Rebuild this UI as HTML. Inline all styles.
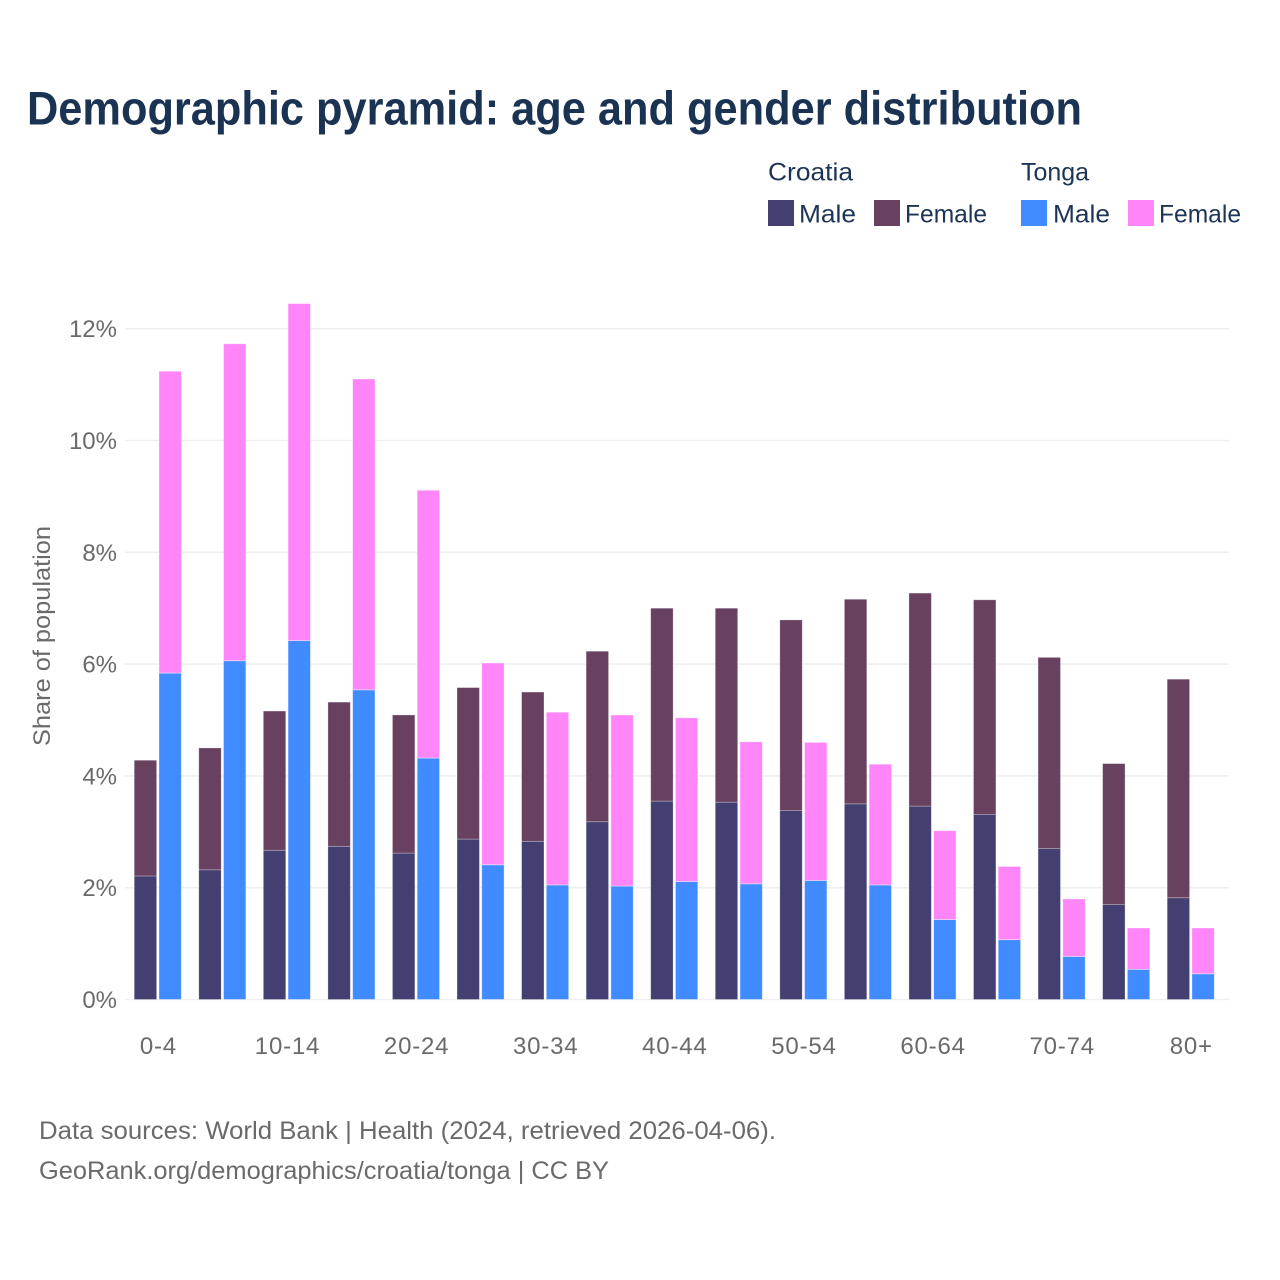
<!DOCTYPE html>
<html lang="en">
<head>
<meta charset="utf-8">
<title>Demographic pyramid: age and gender distribution</title>
<style>
  html, body { margin: 0; padding: 0; background: #ffffff; }
  svg { display: block; font-family: "Liberation Sans", sans-serif; }
</style>
</head>
<body>
<svg id="chart" xmlns="http://www.w3.org/2000/svg" width="1280" height="1280" viewBox="0 0 1280 1280">
  <rect x="0" y="0" width="1280" height="1280" fill="#ffffff"/>
  <text x="27" y="124.5" font-size="47" font-weight="700" fill="#1a3353" textLength="1055" lengthAdjust="spacingAndGlyphs">Demographic pyramid: age and gender distribution</text>

  <g font-size="25" fill="#1c3455">
    <text x="768" y="180.5" textLength="85" lengthAdjust="spacingAndGlyphs">Croatia</text>
    <text x="1021" y="180.5" textLength="68" lengthAdjust="spacingAndGlyphs">Tonga</text>
    <rect x="768" y="200" width="26" height="26" fill="#433f70"/>
    <text x="799" y="222.5" textLength="57" lengthAdjust="spacingAndGlyphs">Male</text>
    <rect x="874" y="200" width="26" height="26" fill="#67415f"/>
    <text x="905" y="222.5" textLength="82" lengthAdjust="spacingAndGlyphs">Female</text>
    <rect x="1021" y="200" width="26" height="26" fill="#408bff"/>
    <text x="1053" y="222.5" textLength="57" lengthAdjust="spacingAndGlyphs">Male</text>
    <rect x="1128" y="200" width="26" height="26" fill="#ff85f9"/>
    <text x="1159" y="222.5" textLength="82" lengthAdjust="spacingAndGlyphs">Female</text>
  </g>

  <g id="grid"></g>
  <g id="y-ticks"></g>
  <g id="bars"></g>
  <g id="x-ticks"></g>

  <text transform="translate(50,636) rotate(-90)" text-anchor="middle" font-size="24" fill="#6a6a6a" textLength="220" lengthAdjust="spacingAndGlyphs">Share of population</text>

  <text x="39" y="1139" font-size="25" fill="#6a6a6a" textLength="737" lengthAdjust="spacingAndGlyphs">Data sources: World Bank | Health (2024, retrieved 2026-04-06).</text>
  <text x="39" y="1179" font-size="25" fill="#6a6a6a" textLength="570" lengthAdjust="spacingAndGlyphs">GeoRank.org/demographics/croatia/tonga | CC BY</text>
</svg>

<script>
const categories = ["0-4","5-9","10-14","15-19","20-24","25-29","30-34","35-39","40-44","45-49","50-54","55-59","60-64","65-69","70-74","75-79","80+"];
const shownCategories = ["0-4","10-14","20-24","30-34","40-44","50-54","60-64","70-74","80+"];
const croatiaMale = [2.21,2.32,2.67,2.74,2.62,2.87,2.83,3.18,3.55,3.53,3.38,3.50,3.46,3.31,2.70,1.70,1.82];
const croatiaFemale = [2.07,2.18,2.49,2.58,2.47,2.71,2.67,3.05,3.45,3.47,3.41,3.66,3.81,3.84,3.42,2.52,3.91];
const tongaMale = [5.84,6.06,6.42,5.54,4.32,2.41,2.05,2.03,2.11,2.07,2.13,2.05,1.43,1.07,0.77,0.54,0.46];
const tongaFemale = [5.40,5.67,6.03,5.56,4.79,3.61,3.09,3.06,2.93,2.54,2.47,2.16,1.59,1.31,1.03,0.74,0.82];
const yTickValues = [0,2,4,6,8,10,12];

const NS = "http://www.w3.org/2000/svg";
const plotLeft = 125;
const plotRight = 1229;
const plotBottom = 999.5;
const pxPerUnit = 55.9;
const bandStart = 125.5;
const bandStep = 64.56;
const barWidth = 22.4;
const barGap = 2.3;
const labelShift = 0.6;

function yScale(v) { return plotBottom - v * pxPerUnit; }
function xCenter(i) { return bandStart + bandStep * (i + 0.5); }

function svgEl(tag, attrs, parent) {
  const el = document.createElementNS(NS, tag);
  for (const k in attrs) el.setAttribute(k, attrs[k]);
  parent.appendChild(el);
  return el;
}

const grid = document.getElementById("grid");
const yTicks = document.getElementById("y-ticks");
yTickValues.forEach(function (t) {
  const line = svgEl("line", { x1: plotLeft, x2: plotRight, y1: yScale(t), y2: yScale(t), stroke: "#efefef", "stroke-width": 1.6 }, grid);
  
  
  const label = svgEl("text", { x: 117, y: yScale(t) + 8.5, "text-anchor": "end", "font-size": 24, fill: "#6a6a6a" }, yTicks);
  label.textContent = t + "%";
  
  
});

const bars = document.getElementById("bars");
function drawSegment(x, base, value, fill, stroke) {
  const top = yScale(base + value);
  const rect = svgEl("rect", { x: x, y: top, width: barWidth, height: yScale(base) - top, fill: fill, stroke: stroke, "stroke-width": 0.8 }, bars);
  
  
}
categories.forEach(function (c, i) {
  const cx = xCenter(i);
  const leftX = cx - barGap / 2 - barWidth;
  const rightX = cx + barGap / 2;
  drawSegment(leftX, 0, croatiaMale[i], "#433f70", "rgba(255,255,255,0.35)");
  drawSegment(leftX, croatiaMale[i], croatiaFemale[i], "#67415f", "rgba(255,255,255,0.35)");
  drawSegment(rightX, 0, tongaMale[i], "#408bff", "rgba(255,255,255,0.5)");
  drawSegment(rightX, tongaMale[i], tongaFemale[i], "#ff85f9", "rgba(255,255,255,0.5)");
});

const xTicks = document.getElementById("x-ticks");
shownCategories.forEach(function (c) {
  const i = categories.indexOf(c);
  const label = svgEl("text", { x: xCenter(i) + labelShift, y: 1054, "text-anchor": "middle", "font-size": 24, "letter-spacing": 0.8, fill: "#6a6a6a" }, xTicks);
  label.textContent = c;
  
  
});
</script>
</body>
</html>
